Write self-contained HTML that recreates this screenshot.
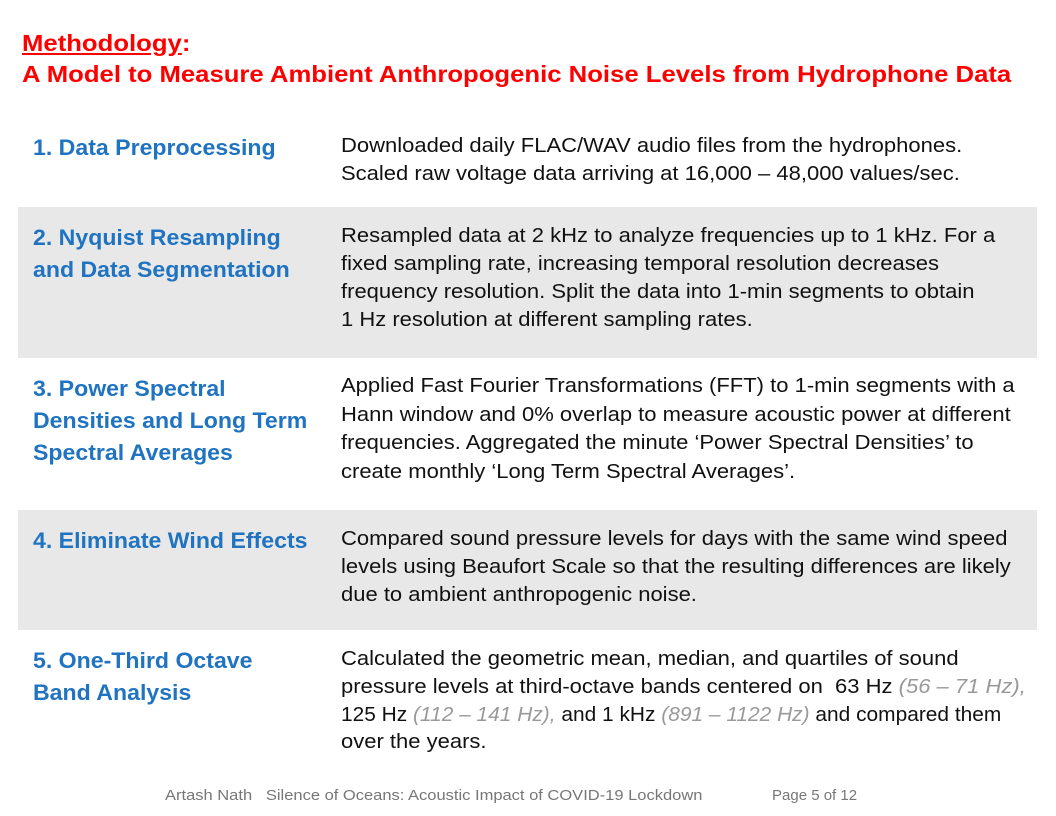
<!DOCTYPE html>
<html><head><meta charset="utf-8"><style>
body{margin:0;width:1056px;height:816px;background:#fff;position:relative;overflow:hidden;font-family:"Liberation Sans",sans-serif}
.a{position:absolute;white-space:nowrap;transform-origin:0 50%}
.t{color:#f00;font-weight:bold;font-size:23px;left:22px;transform:scaleX(1.117)}
.h{color:#1f73c1;font-weight:bold;font-size:22px;left:33px;transform:scaleX(1.05)}
.b{color:#111;font-size:20px;left:341px;transform:scaleX(1.1)}
.g{position:absolute;left:18px;width:1019px;background:#e8e8e8}
.i{color:#999;font-style:italic}
.f{color:#777;font-size:15px;top:787px;transform:scaleX(1.1)}
</style></head><body>
<div class="a t" style="top:30px"><u>Methodology</u>:</div>
<div class="a t" style="top:61px">A Model to Measure Ambient Anthropogenic Noise Levels from Hydrophone Data</div>
<div class="g" style="top:207px;height:151px"></div>
<div class="g" style="top:510px;height:120px"></div>

<div class="a h" style="top:135px">1. Data Preprocessing</div>
<div class="a b" style="top:135px">Downloaded daily FLAC/WAV audio files from the hydrophones.</div>
<div class="a b" style="top:163px">Scaled raw voltage data arriving at 16,000 – 48,000 values/sec.</div>

<div class="a h" style="top:225px">2. Nyquist Resampling</div>
<div class="a h" style="top:257px">and Data Segmentation</div>
<div class="a b" style="top:225px">Resampled data at 2 kHz to analyze frequencies up to 1 kHz. For a</div>
<div class="a b" style="top:253px">fixed sampling rate, increasing temporal resolution decreases</div>
<div class="a b" style="top:281px">frequency resolution. Split the data into 1-min segments to obtain</div>
<div class="a b" style="top:309px">1 Hz resolution at different sampling rates.</div>

<div class="a h" style="top:376px">3. Power Spectral</div>
<div class="a h" style="top:408px">Densities and Long Term</div>
<div class="a h" style="top:440px">Spectral Averages</div>
<div class="a b" style="top:375px">Applied Fast Fourier Transformations (FFT) to 1-min segments with a</div>
<div class="a b" style="top:404px">Hann window and 0% overlap to measure acoustic power at different</div>
<div class="a b" style="top:432px">frequencies. Aggregated the minute ‘Power Spectral Densities’ to</div>
<div class="a b" style="top:461px">create monthly ‘Long Term Spectral Averages’.</div>

<div class="a h" style="top:528px">4. Eliminate Wind Effects</div>
<div class="a b" style="top:528px">Compared sound pressure levels for days with the same wind speed</div>
<div class="a b" style="top:556px">levels using Beaufort Scale so that the resulting differences are likely</div>
<div class="a b" style="top:584px">due to ambient anthropogenic noise.</div>

<div class="a h" style="top:648px">5. One-Third Octave</div>
<div class="a h" style="top:680px">Band Analysis</div>
<div class="a b" style="top:648px">Calculated the geometric mean, median, and quartiles of sound</div>
<div class="a b" style="top:676px">pressure levels at third-octave bands centered on&nbsp; 63 Hz <span class="i">(56 – 71 Hz),</span></div>
<div class="a b" style="top:704px;transform:scaleX(1.045)">125 Hz <span class="i">(112 – 141 Hz),</span> and 1 kHz <span class="i">(891 – 1122 Hz)</span> and compared them</div>
<div class="a b" style="top:731px">over the years.</div>

<div class="a f" style="left:165px">Artash Nath&nbsp;&nbsp; Silence of Oceans: Acoustic Impact of COVID-19 Lockdown</div>
<div class="a f" style="left:772px;transform:none">Page 5 of 12</div>
</body></html>
